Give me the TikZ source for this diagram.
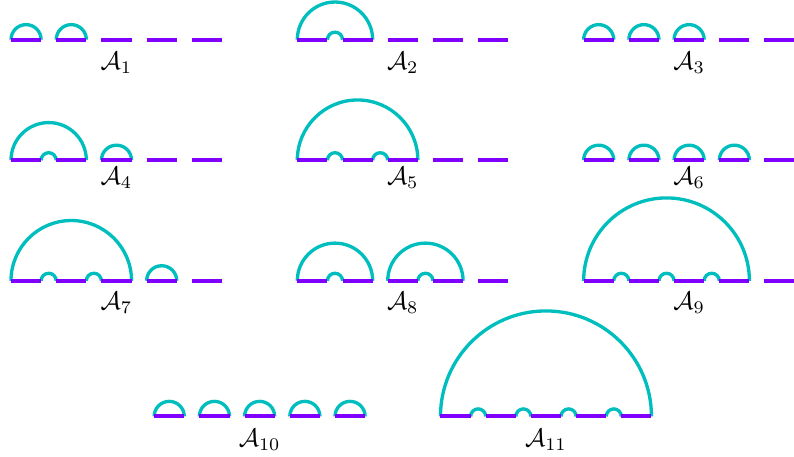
\documentclass[tikz,border=0pt]{standalone}
\definecolor{segviolet}{RGB}{128,0,255}
\definecolor{arccyan}{RGB}{0,190,190}
\tikzset{
  seg/.style={draw=segviolet, line width=3pt, line cap=butt},
  cyanarc/.style={draw=arccyan, line width=2.5pt, line cap=butt},
  lab/.style={anchor=base, inner sep=0pt, scale=1.9}
}
% groups of cells under one arc: x0, y0, first cell, last cell
\newcommand\grp[4]{%
  \draw[cyanarc] ({#1+3*(#3)},#2) arc[start angle=180,end angle=0,radius={1.5*(#4-#3)+1}];
  \ifnum#4>#3\relax
    \pgfmathtruncatemacro\grpend{#4-1}%
    \foreach \k in {#3,...,\grpend}{\draw[cyanarc] ({#1+3*\k+2},#2) arc[start angle=180,end angle=0,radius=0.5];}%
  \fi}
\newcommand\segs[2]{\foreach \k in {0,...,4}{\draw[seg] ({#1+3*\k},#2) -- ++(2,0);}}
\begin{document}
\begin{tikzpicture}[x=11.3pt,y=11.3pt]
\useasboundingbox (-0.73,2.634) rectangle (51.96,-27.69);
% A1
\grp{0}{0}{0}{0}\grp{0}{0}{1}{1}\segs{0}{0}
\node[lab] (a1) at (7,-1.97) {$\mathcal{A}_{1}$};
% A2
\grp{19}{0}{0}{1}\segs{19}{0}
\node[lab] (a2) at (26,-1.97) {$\mathcal{A}_{2}$};
% A3
\grp{38}{0}{0}{0}\grp{38}{0}{1}{1}\grp{38}{0}{2}{2}\segs{38}{0}
\node[lab] (a3) at (45,-1.97) {$\mathcal{A}_{3}$};
% A4
\grp{0}{-8}{0}{1}\grp{0}{-8}{2}{2}\segs{0}{-8}
\node[lab] (a4) at (7,-9.6) {$\mathcal{A}_{4}$};
% A5
\grp{19}{-8}{0}{2}\segs{19}{-8}
\node[lab] (a5) at (26,-9.6) {$\mathcal{A}_{5}$};
% A6
\grp{38}{-8}{0}{0}\grp{38}{-8}{1}{1}\grp{38}{-8}{2}{2}\grp{38}{-8}{3}{3}\segs{38}{-8}
\node[lab] (a6) at (45,-9.6) {$\mathcal{A}_{6}$};
% A7
\grp{0}{-16}{0}{2}\grp{0}{-16}{3}{3}\segs{0}{-16}
\node[lab] (a7) at (7,-17.92) {$\mathcal{A}_{7}$};
% A8
\grp{19}{-16}{0}{1}\grp{19}{-16}{2}{3}\segs{19}{-16}
\node[lab] (a8) at (26,-17.92) {$\mathcal{A}_{8}$};
% A9
\grp{38}{-16}{0}{3}\segs{38}{-16}
\node[lab] (a9) at (45,-17.92) {$\mathcal{A}_{9}$};
% A10
\grp{9.5}{-25}{0}{0}\grp{9.5}{-25}{1}{1}\grp{9.5}{-25}{2}{2}\grp{9.5}{-25}{3}{3}\grp{9.5}{-25}{4}{4}\segs{9.5}{-25}
\node[lab] (a10) at (16.5,-27) {$\mathcal{A}_{10}$};
% A11
\grp{28.5}{-25}{0}{4}\segs{28.5}{-25}
\node[lab] (a11) at (35.5,-27) {$\mathcal{A}_{11}$};
\end{tikzpicture}
\end{document}
